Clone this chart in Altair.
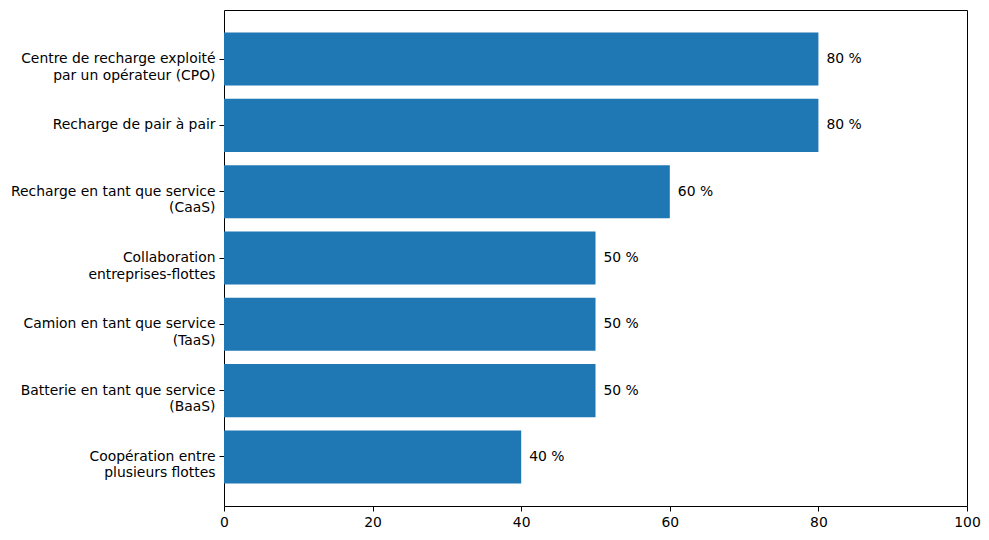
import altair as alt
import pandas as pd

categories = [
    "Centre de recharge exploité|par un opérateur (CPO)",
    "Recharge de pair à pair",
    "Recharge en tant que service|(CaaS)",
    "Collaboration|entreprises-flottes",
    "Camion en tant que service|(TaaS)",
    "Batterie en tant que service|(BaaS)",
    "Coopération entre|plusieurs flottes",
]
values = [80, 80, 60, 50, 50, 50, 40]
labels = [f"{v} %" for v in values]

df = pd.DataFrame({"cat": categories, "val": values, "lab": labels})

FONT = "DejaVu Sans"
FS = 13.9

y_enc = alt.Y(
    "cat:N",
    sort=categories,
    title=None,
    scale=alt.Scale(paddingInner=0.2, paddingOuter=0.34),
    axis=alt.Axis(
        labelExpr="split(datum.label, '|')",
        labelFont=FONT,
        labelFontSize=FS,
        labelColor="black",
        labelLineHeight=16.5,
        labelPadding=4,
        tickColor="black",
        tickSize=5,
        domain=False,
        grid=False,
        labelLimit=300,
    ),
)

x_enc = alt.X(
    "val:Q",
    title=None,
    scale=alt.Scale(domain=[0, 100], nice=False),
    axis=alt.Axis(
        values=[0, 20, 40, 60, 80, 100],
        labelFont=FONT,
        labelFontSize=FS,
        labelColor="black",
        labelPadding=4,
        labelFlush=False,
        tickColor="black",
        tickSize=5,
        domain=False,
        grid=False,
    ),
)

bars = alt.Chart(df).mark_bar(color="#1f77b4").encode(x=x_enc, y=y_enc)
text = alt.Chart(df).mark_text(
    align="left", baseline="middle", dx=8, font=FONT, fontSize=FS, color="black"
).encode(x="val:Q", y=alt.Y("cat:N", sort=categories), text="lab:N")

chart = (
    (bars + text)
    .properties(
        width=743,
        height=496,
        autosize=alt.AutoSizeParams(type="none"),
        padding={"left": 216, "top": 2, "right": 14, "bottom": 26},
    )
    .configure(background="white")
    .configure_view(stroke="black", strokeWidth=1)
)

chart.save("out.html", embed_options={"renderer": "svg", "actions": False})
